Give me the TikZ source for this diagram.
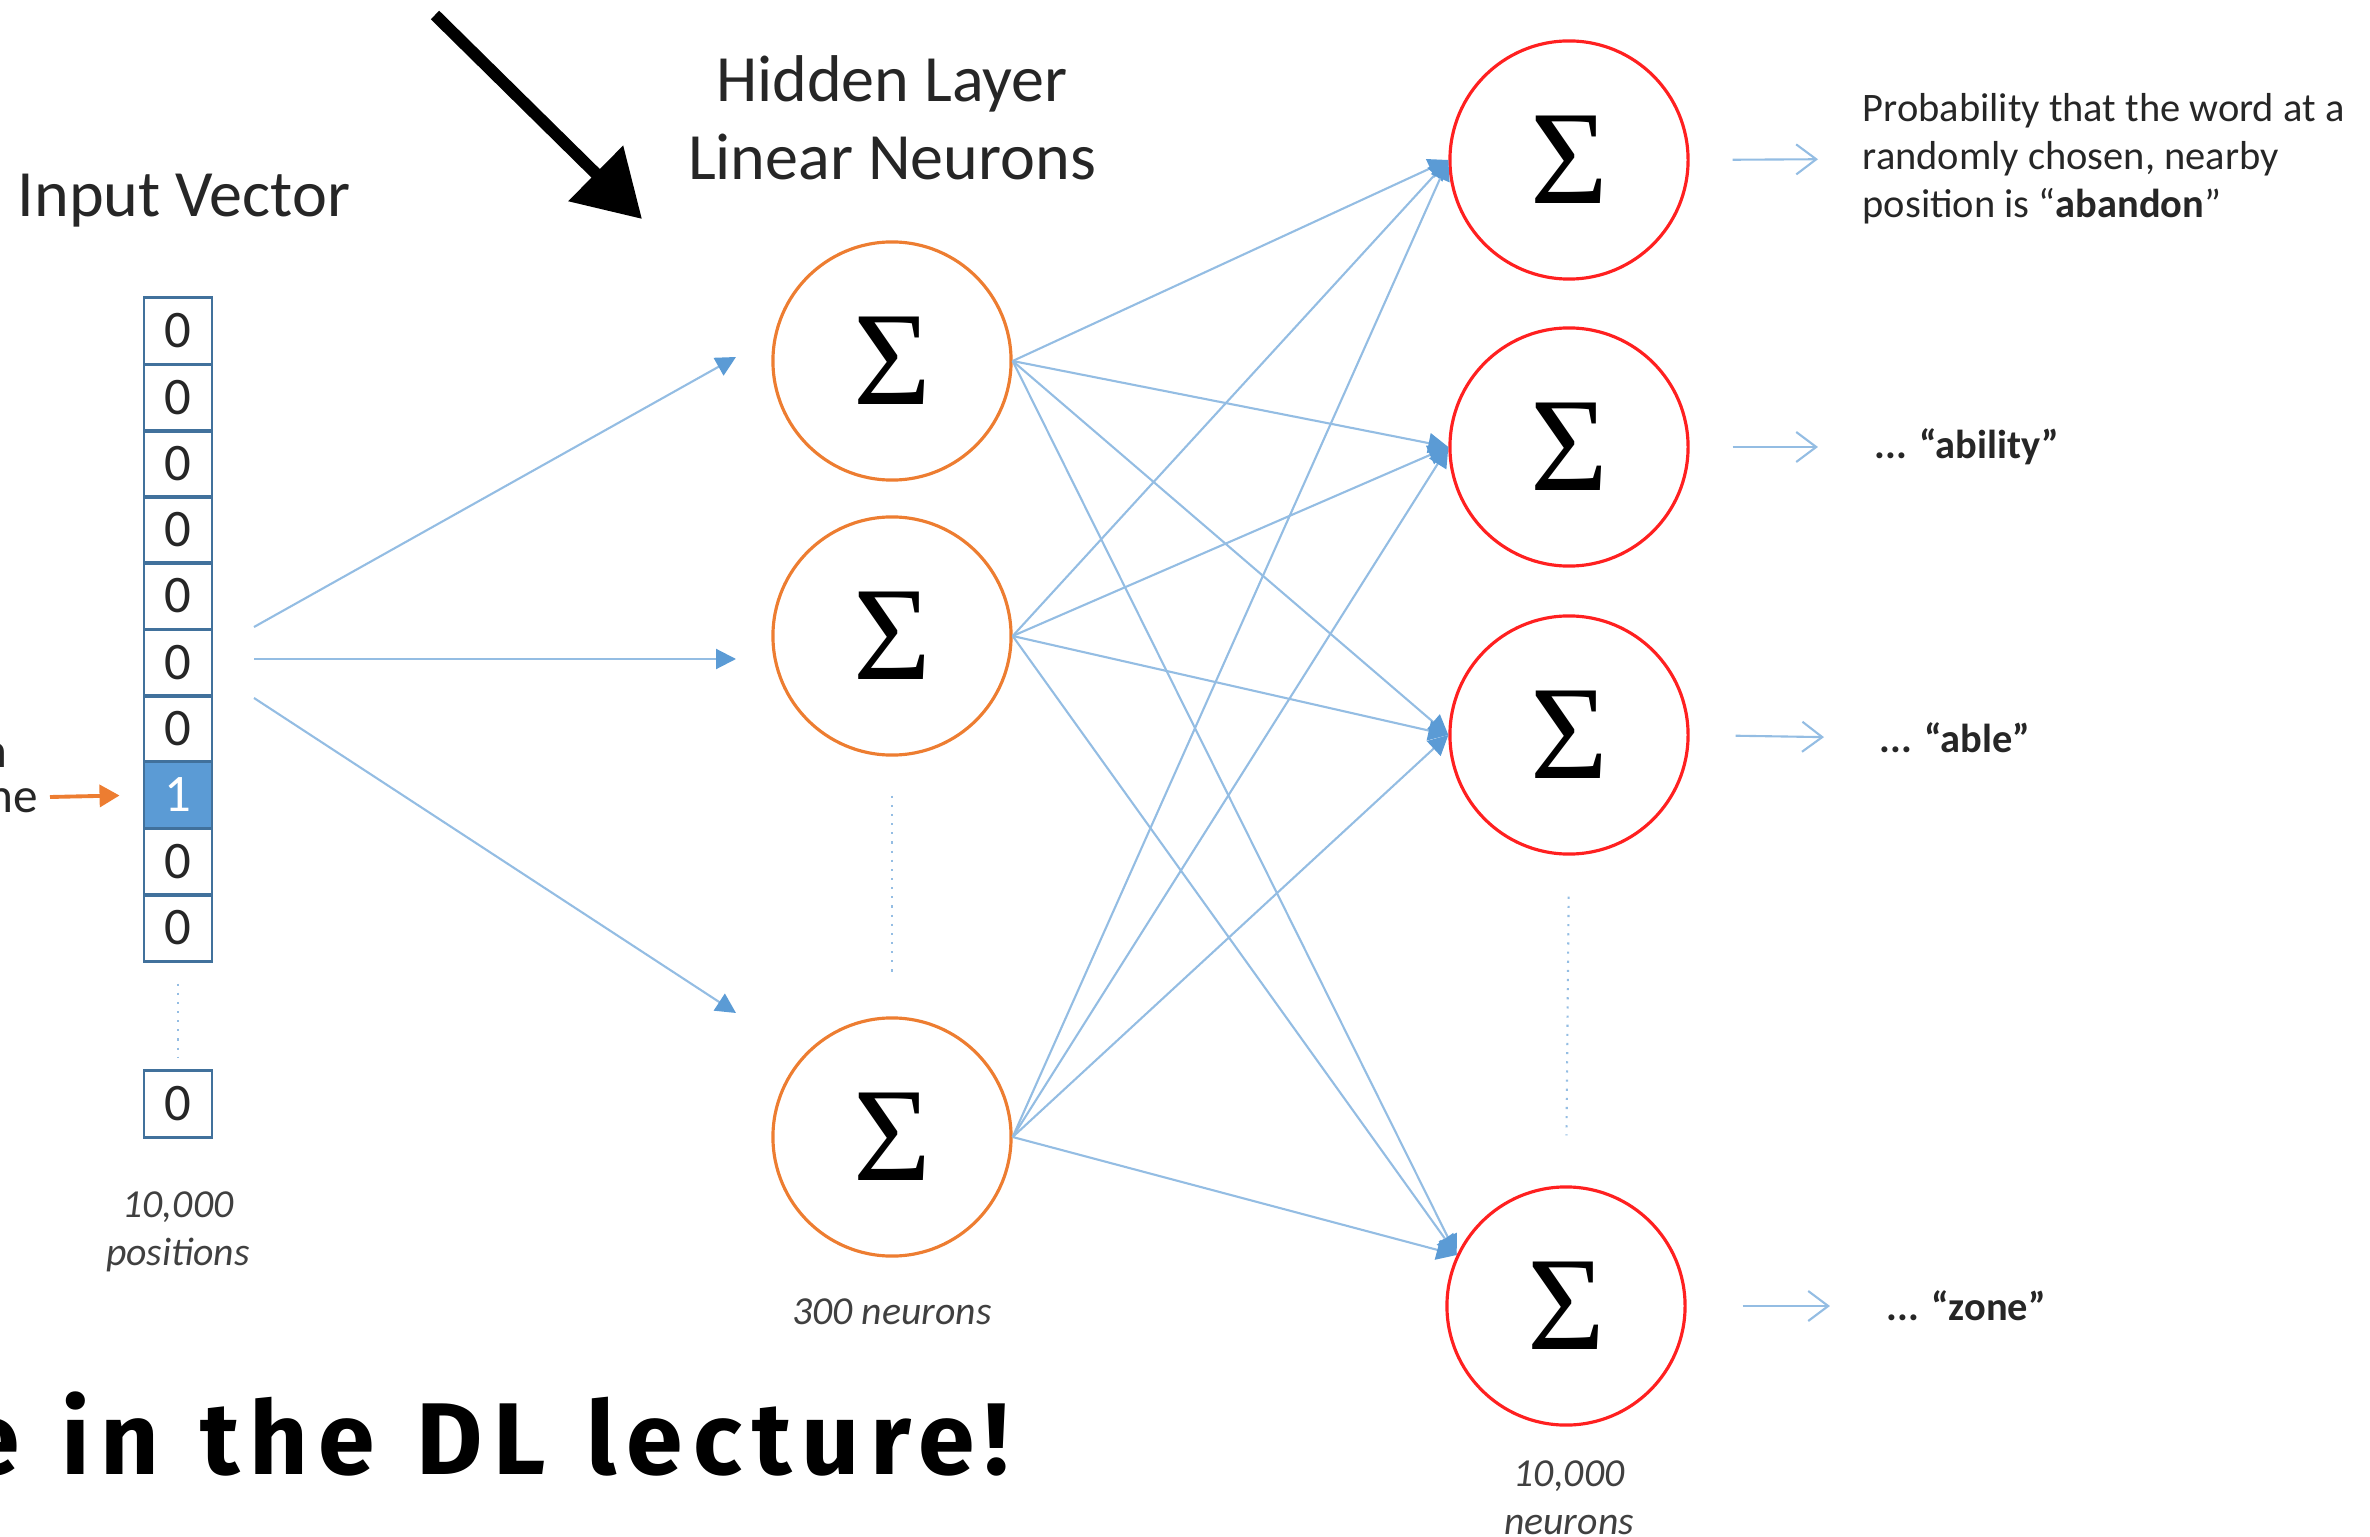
\documentclass[tikz,border=0pt]{standalone}
\usepackage{fontspec}
\setmainfont{Carlito}
\newfontfamily\sigmafont{Liberation Serif}
\newfontfamily\handfont{Fira Sans}[LetterSpace=10, WordSpace=1.2]
\usetikzlibrary{arrows.meta}
\definecolor{linkblue}{HTML}{94BDE3}
\definecolor{headblue}{HTML}{5B9BD5}
\definecolor{cellblue}{HTML}{41719C}
\definecolor{hidorange}{HTML}{ED7D31}
\definecolor{outred}{HTML}{FF2020}
\definecolor{txt}{HTML}{262626}
\definecolor{notegray}{HTML}{404040}
\tikzset{
  title/.style={text=txt, align=center, font=\fontsize{18.8}{22.2}\selectfont},
  cell/.style={draw=cellblue, line width=0.8pt, minimum width=0.68cm, minimum height=0.663cm,
    inner sep=0pt, text=txt, font=\fontsize{15}{15}\selectfont},
  hot/.style={cell, fill=headblue, text=white},
  hidden/.style={circle, draw=hidorange, line width=0.9pt, minimum size=2.38cm, inner sep=0pt,
    font=\fontsize{38}{40}\sigmafont},
  output/.style={hidden, draw=outred},
  note/.style={text=notegray, align=center, font=\fontsize{11.3}{13.66}\itshape},
  prob/.style={anchor=west, inner sep=0pt, text=txt, align=left, font=\fontsize{11.5}{13.66}\selectfont},
  frag/.style={anchor=base east, inner sep=0pt, text=txt, font=\fontsize{14}{14}\selectfont},
  link/.style={draw=linkblue, line width=0.6pt, -{Triangle[length=0.2cm, width=0.2cm, color=headblue]}},
  outlink/.style={draw=linkblue, line width=0.6pt, -{Straight Barb[length=0.2cm, width=0.3cm]}},
  hotarrow/.style={draw=hidorange, line width=1.1pt, -{Triangle[length=0.2cm, width=0.22cm]}},
  dots/.style={draw=linkblue, line width=0.6pt, dotted},
  hand/.style={draw=black, line width=3.4pt, -{Triangle[length=0.65cm, width=0.75cm]}},
  handtext/.style={anchor=base east, inner sep=0pt, font=\fontsize{29}{30}\handfont\bfseries}
}
\begin{document}
\begin{tikzpicture}[x=0.01cm, y=-0.01cm]
\useasboundingbox (0,0) rectangle (2370,1537);
\clip (0,0) rectangle (2370,1537);
% titles
\node[title] (tin) at (184,201) {Input Vector};
\node[title] (thid) at (892,118) {Hidden Layer\\Linear Neurons};
\node[title, anchor=base] (tout) at (1572,0) {Softmax Classifier};
% input vector
\node[cell] (c1) at (178,331) {0};
\node[cell] (c2) at (178,398) {0};
\node[cell] (c3) at (178,464) {0};
\node[cell] (c4) at (178,530) {0};
\node[cell] (c5) at (178,596) {0};
\node[cell] (c6) at (178,663) {0};
\node[cell] (c7) at (178,729) {0};
\node[hot] (c8) at (178,795) {1};
\node[cell] (c9) at (178,862) {0};
\node[cell] (c10) at (178,928) {0};
\node[cell] (c11) at (178,1104) {0};
\draw[dots, shorten <=0.21cm, shorten >=0.12cm] (c10.south) -- (c11.north);
\node[note] (npos) at (178,1232) {10,000\\positions};
% cut-off text at the left edge
\node[frag] (fa) at (8,767) {n};
\node[frag] (fb) at (39,812) {ne};
\coordinate (oa) at (50,797);
\draw[hotarrow, shorten >=0.23cm] (oa) -- (c8.west);
% input links
\coordinate (s1) at (254,627);
\coordinate (s2) at (254,659);
\coordinate (s3) at (254,698);
\coordinate (e1) at (736,357);
\coordinate (e2) at (736,659);
\coordinate (e3) at (736,1013);
\draw[link] (s1) -- (e1);
\draw[link] (s2) -- (e2);
\draw[link] (s3) -- (e3);
% hidden layer
\node[hidden] (h1) at (892,361) {Σ};
\node[hidden] (h2) at (892,636) {Σ};
\node[hidden] (h3) at (892,1137) {Σ};
\draw[dots, shorten <=0.39cm, shorten >=0.43cm] (h2.south) -- (h3.north);
\node[note] (nhid) at (892,1312) {300 neurons};
% output layer
\node[output] (o1) at (1569,160) {Σ};
\node[output] (o2) at (1569,447) {Σ};
\node[output] (o3) at (1569,735) {Σ};
\node[output] (o4) at (1566,1306) {Σ};
\draw[dots, shorten <=0.41cm, shorten >=0.50cm] (o3.south) -- (o4.north);
\node[note] (nout) at (1569,1498) {10,000\\neurons};
% hidden to output
\draw[link] (h1.east) -- (o1.west);
\draw[link] (h1.east) -- (o2.west);
\draw[link] (h1.east) -- (o3.west);
\draw[link] (h1.east) -- (o4.155);
\draw[link] (h2.east) -- (o1.west);
\draw[link] (h2.east) -- (o2.west);
\draw[link] (h2.east) -- (o3.west);
\draw[link] (h2.east) -- (o4.155);
\draw[link] (h3.east) -- (o1.west);
\draw[link] (h3.east) -- (o2.west);
\draw[link] (h3.east) -- (o3.west);
\draw[link] (h3.east) -- (o4.155);
% output labels
\node[prob] (p1) at (1862,159) {Probability that the word at a\\randomly chosen, nearby\\position is “\textbf{abandon}”};
\node[prob] (p2) at (1874,447) {\textbf{... “ability”}};
\node[prob] (p3) at (1879,738) {\textbf{... “able”}};
\node[prob] (p4) at (1886,1306) {\textbf{... “zone”}};
\draw[outlink, shorten <=0.43cm, shorten >=0.44cm] (o1.east) -- (p1.west);
\draw[outlink, shorten <=0.43cm, shorten >=0.56cm] (o2.east) -- (p2.west);
\draw[outlink, shorten <=0.46cm, shorten >=0.55cm] (o3.east) -- (p3.west);
\draw[outlink, shorten <=0.56cm, shorten >=0.56cm] (o4.east) -- (p4.west);
% hand-drawn remarks
\coordinate (ha) at (435,15);
\coordinate (hb) at (642,219);
\draw[hand] (ha) -- (hb);
\node[handtext] (lect) at (1010,1474) {More in the DL lecture!};
\end{tikzpicture}
\end{document}
